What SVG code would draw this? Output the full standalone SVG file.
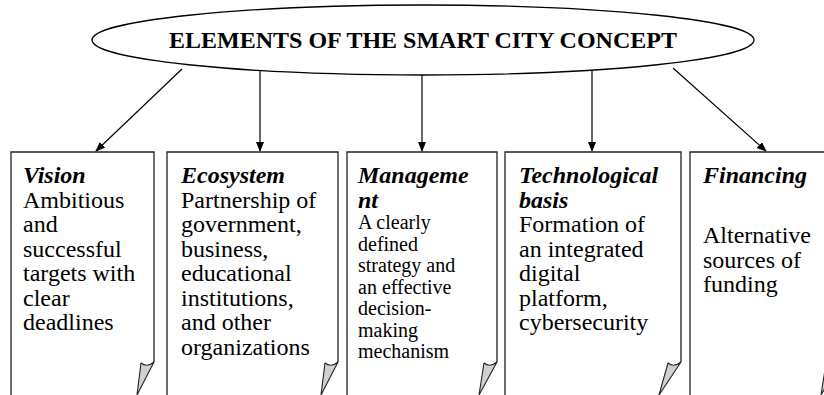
<svg xmlns="http://www.w3.org/2000/svg" width="824" height="395" viewBox="0 0 824 395">
<defs>
<marker id="ah" markerWidth="10" markerHeight="10" refX="9" refY="4" orient="auto" markerUnits="userSpaceOnUse">
<path d="M0,0 L10,4 L0,8 Z" fill="#000"/>
</marker>
<style>
.t{font-family:"Liberation Serif","Times New Roman",serif;fill:#000}
.h{font-size:24px;font-weight:bold;font-style:italic}
.b{font-size:24px}
.s{font-size:20px}
.box{fill:#fff;stroke:#222;stroke-width:1.3}
.curl{fill:#d0d0d0;stroke:#222;stroke-width:1.1;stroke-linejoin:round}
.c{stroke:#000;stroke-width:1.2;fill:none}
</style>
</defs>
<rect width="824" height="395" fill="#fff"/>
<g id="title">
<ellipse cx="423" cy="40" rx="331" ry="35" fill="#fff" stroke="#000" stroke-width="1.3"/>
<text class="t" x="423" y="48" font-size="24" font-weight="bold" text-anchor="middle">ELEMENTS OF THE SMART CITY CONCEPT</text>
</g>
<g id="connectors">
<line class="c" x1="182" y1="69" x2="96" y2="151" marker-end="url(#ah)"/>
<line class="c" x1="260" y1="71" x2="260" y2="151" marker-end="url(#ah)"/>
<line class="c" x1="422" y1="75" x2="422" y2="151" marker-end="url(#ah)"/>
<line class="c" x1="592" y1="71" x2="592" y2="151" marker-end="url(#ah)"/>
<line class="c" x1="673" y1="68" x2="766" y2="151" marker-end="url(#ah)"/>
</g>
<g id="vision">
<path class="box" d="M11,400 L11,152 L154,152 L154,362"/>
<path class="curl" d="M141,363 Q147,368 154,362 L137,395 Z"/>
<text class="t h" x="23" y="183">Vision</text>
<text class="t b"><tspan x="23" y="207.5">Ambitious</tspan><tspan x="23" y="232">and</tspan><tspan x="23" y="256.5">successful</tspan><tspan x="23" y="281">targets with</tspan><tspan x="23" y="305.5">clear</tspan><tspan x="23" y="330">deadlines</tspan></text>
</g>
<g id="ecosystem">
<path class="box" d="M167,400 L167,152 L338,152 L338,362"/>
<path class="curl" d="M325,363 Q331,368 338,362 L321,395 Z"/>
<text class="t h" x="181" y="183">Ecosystem</text>
<text class="t b"><tspan x="181" y="207.5">Partnership of</tspan><tspan x="181" y="232">government,</tspan><tspan x="181" y="256.5">business,</tspan><tspan x="181" y="281">educational</tspan><tspan x="181" y="305.5">institutions,</tspan><tspan x="181" y="330">and other</tspan><tspan x="181" y="354.5">organizations</tspan></text>
</g>
<g id="management">
<path class="box" d="M347,400 L347,152 L497,152 L497,362"/>
<path class="curl" d="M484,363 Q490,368 497,362 L479,395 Z"/>
<text class="t h"><tspan x="358" y="183">Manageme</tspan><tspan x="358" y="207.5">nt</tspan></text>
<text class="t s"><tspan x="358" y="229">A clearly</tspan><tspan x="358" y="250.5">defined</tspan><tspan x="358" y="272">strategy and</tspan><tspan x="358" y="293.5">an effective</tspan><tspan x="358" y="315">decision-</tspan><tspan x="358" y="336.5">making</tspan><tspan x="358" y="358">mechanism</tspan></text>
</g>
<g id="technological">
<path class="box" d="M505,400 L505,152 L681,152 L681,362"/>
<path class="curl" d="M668,363 Q674,368 681,362 L659,395 Z"/>
<text class="t h"><tspan x="519" y="183">Technological</tspan><tspan x="519" y="207.5">basis</tspan></text>
<text class="t b"><tspan x="519" y="232">Formation of</tspan><tspan x="519" y="256.5">an integrated</tspan><tspan x="519" y="281">digital</tspan><tspan x="519" y="305.5">platform,</tspan><tspan x="519" y="330">cybersecurity</tspan></text>
</g>
<g id="financing">
<path class="box" d="M690,400 L690,152 L840,152 L840,362"/>
<path class="curl" d="M826,363 Q832,368 840,362 L821,395 Z"/>
<text class="t h" x="703" y="183">Financing</text>
<text class="t b"><tspan x="703" y="243">Alternative</tspan><tspan x="703" y="267.5">sources of</tspan><tspan x="703" y="292">funding</tspan></text>
</g>
</svg>
